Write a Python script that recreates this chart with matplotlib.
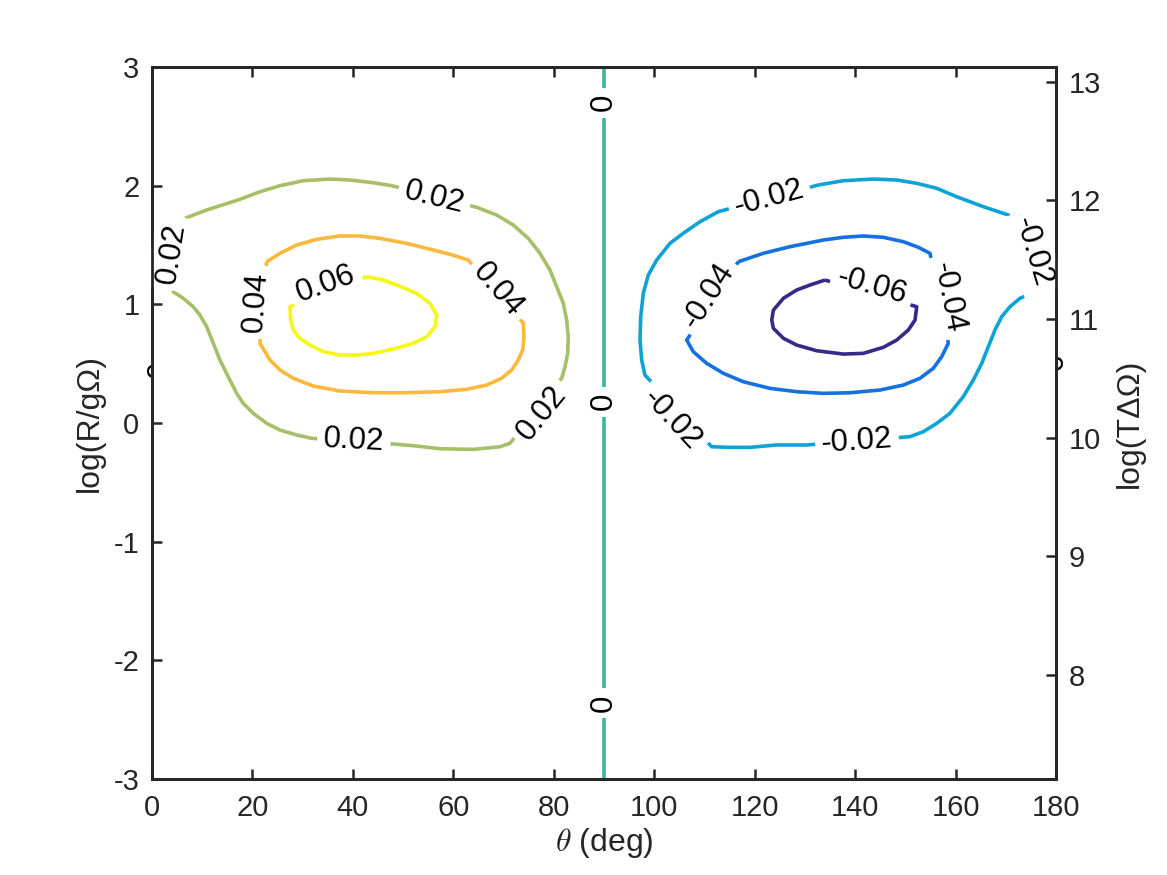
import matplotlib
matplotlib.use("Agg")
import matplotlib.pyplot as plt
import numpy as np
from matplotlib.transforms import Bbox

plt.rcParams['font.family'] = ['Liberation Sans', 'DejaVu Sans']
plt.rcParams['mathtext.fontset'] = 'cm'
plt.rcParams['axes.unicode_minus'] = False

# contour levels and their colours (parula-like)
levels = [-0.06, -0.04, -0.02, 0.0, 0.02, 0.04, 0.06]
level_colors = ['#352a87', '#1570e0', '#0ea3d6', '#36b89d', '#a6bf68', '#fcb83c', '#f6f712']

# contour paths: (theta in deg, log(R/g Omega))
c_p02 = [(6.57, 1.725), (10.89, 1.795), (17.52, 1.885), (21.5, 1.949), (25.49, 2.0),
         (30.13, 2.042), (35.44, 2.056), (39.43, 2.048), (44.06, 2.025), (47.73, 2.0),
         (64.65, 1.818), (68.63, 1.753), (71.94, 1.669), (74.93, 1.556), (77.26, 1.43),
         (79.25, 1.289), (80.58, 1.149), (81.9, 1.009), (82.57, 0.868), (82.89, 0.727),
         (82.77, 0.587), (82.24, 0.474), (81.58, 0.377),
         (71.28, -0.171), (69.29, -0.2), (63.98, -0.222), (57.35, -0.217), (52.71, -0.194),
         (49.04, -0.18),
         (31.8, -0.129), (28.81, -0.101), (25.49, -0.059), (22.84, -0.003), (20.17, 0.082),
         (18.18, 0.166), (16.87, 0.25), (15.19, 0.39), (13.54, 0.531), (12.21, 0.672),
         (10.89, 0.812), (9.56, 0.91), (8.22, 0.98), (6.23, 1.051), (4.24, 1.106)]
c_p04 = [(22.84, 1.359), (25.49, 1.43), (28.81, 1.5), (32.79, 1.548), (37.43, 1.576),
         (41.42, 1.576), (45.4, 1.556), (50.71, 1.514), (54.69, 1.472), (59.34, 1.422),
         (62.98, 1.374),
         (73.94, 0.84), (74.07, 0.727), (73.81, 0.615), (72.94, 0.531), (71.62, 0.447),
         (69.63, 0.377), (66.64, 0.32), (62.66, 0.284), (57.35, 0.264), (50.71, 0.255),
         (44.06, 0.255), (37.43, 0.27), (32.11, 0.312), (28.14, 0.377), (25.49, 0.447),
         (23.5, 0.531), (21.5, 0.672)]
c_p06 = [(42.75, 1.233), (46.06, 1.205), (48.72, 1.163), (52.71, 1.093), (55.35, 1.009),
         (56.7, 0.91), (56.37, 0.812), (54.69, 0.727), (52.04, 0.672), (48.72, 0.63),
         (44.06, 0.587), (40.76, 0.573), (37.43, 0.573), (34.1, 0.601), (31.46, 0.657),
         (29.47, 0.714), (28.13, 0.784), (27.62, 0.868), (27.48, 0.98)]
c_m02 = [(132.68, 2.006), (137.65, 2.042), (143.63, 2.056), (148.28, 2.048), (152.26, 2.02),
         (156.24, 1.978), (160.22, 1.907), (165.53, 1.823), (170.51, 1.753),
         (175.16, 1.093), (172.83, 1.051), (170.84, 0.98), (169.19, 0.896), (167.85, 0.784),
         (166.52, 0.643), (165.21, 0.503), (163.53, 0.362), (161.54, 0.222), (158.89, 0.082),
         (156.24, -0.003), (153.58, -0.073), (150.93, -0.115),
         (130.36, -0.185), (124.39, -0.185), (119.07, -0.205), (115.09, -0.205),
         (111.44, -0.2),
         (98.16, 0.404), (97.51, 0.531), (97.17, 0.699), (97.31, 0.896), (97.83, 1.093),
         (98.83, 1.247), (100.5, 1.374), (103.14, 1.514), (105.79, 1.599), (109.11, 1.696),
         (112.76, 1.781)]
c_m04 = [(116.74, 1.359), (121.72, 1.43), (127.04, 1.486), (133.67, 1.542), (137.65, 1.565),
         (141.63, 1.576), (145.61, 1.565), (149.6, 1.528), (152.58, 1.481), (154.91, 1.43),
         (158.56, 0.672), (157.24, 0.559), (155.57, 0.461), (152.92, 0.377), (149.6, 0.32),
         (144.96, 0.278), (138.98, 0.255), (133.67, 0.25), (128.37, 0.264), (123.05, 0.292),
         (117.74, 0.348), (113.76, 0.419), (110.45, 0.503), (107.78, 0.601), (106.47, 0.699)]
c_m06 = [(134.0, 1.205), (131.02, 1.163), (128.37, 1.121), (125.72, 1.051), (123.73, 0.952),
         (123.4, 0.868), (123.73, 0.798), (125.72, 0.714), (128.37, 0.657), (132.36, 0.609),
         (137.65, 0.581), (141.63, 0.587), (145.61, 0.638), (148.28, 0.699), (150.6, 0.784),
         (151.93, 0.868), (152.26, 0.98)]
c_zero = [(90.0, -3.0), (90.0, 3.0)]

contours = {-0.06: c_m06, -0.04: c_m04, -0.02: c_m02, 0.0: c_zero,
            0.02: c_p02, 0.04: c_p04, 0.06: c_p06}

# inline labels: text, theta, y, rotation
labels = [
    ('0.02', 56.2, 1.90, -14), ('0.02', 77.7, 0.08, 51), ('0.02', 40.2, -0.15, -3),
    ('0.02', 4.0, 1.43, 81), ('0.04', 68.9, 1.12, -49), ('0.04', 20.7, 1.02, 86),
    ('0.06', 34.6, 1.17, 20),
    ('-0.02', 122.9, 1.90, 15), ('-0.02', 175.4, 1.44, -73), ('-0.02', 140.4, -0.16, 4),
    ('-0.02', 103.5, 0.03, -47), ('-0.04', 110.7, 1.07, 57), ('-0.04', 158.5, 1.06, -79),
    ('-0.06', 143.4, 1.15, -16),
    ('0', 90.0, 2.70, 90), ('0', 90.0, 0.18, 90), ('0', 90.0, -2.36, 90),
]

xticks = [0, 20, 40, 60, 80, 100, 120, 140, 160, 180]
yticks = [-3, -2, -1, 0, 1, 2, 3]
y2ticks = [8, 9, 10, 11, 12, 13]
y2_offset = 10.124

dark = '#262626'

fig = plt.figure(figsize=(11.67, 8.75), dpi=100)
ax = fig.add_axes([0.1302, 0.1097, 0.7747, 0.8137])

for lev, col in zip(levels, level_colors):
    pts = np.array(contours[lev])
    if lev != 0.0:
        pts = np.vstack([pts, pts[:1]])
    ax.plot(pts[:, 0], pts[:, 1], color=col, lw=2.6, zorder=2,
            solid_joinstyle='round', solid_capstyle='butt')

for s, xx, yy, rot in labels:
    ax.text(xx, yy, s, rotation=rot, rotation_mode='anchor', ha='center', va='center',
            fontsize=22.5, color='black', zorder=3,
            bbox=dict(fc='white', ec='none', pad=4.5))

ax.set_xlim(0, 180)
ax.set_ylim(-3, 3)
ax.set_xticks(xticks)
ax.set_yticks(yticks)
ax.tick_params(direction='in', length=7.5, width=1.8, labelsize=21, colors=dark,
               top=True, right=False, pad=11)
ax.tick_params(axis='y', pad=9)
ax.set_xlabel(r'$\theta$ (deg)', fontsize=23, color=dark, labelpad=3)
ax.set_ylabel('log(R/gΩ)', fontsize=23, color=dark, labelpad=6)
for sp in ax.spines.values():
    sp.set_linewidth(2.0)
    sp.set_color(dark)

ax2 = ax.twinx()
ax2.set_ylim(-3 + y2_offset, 3 + y2_offset)
ax2.set_yticks(y2ticks)
ax2.tick_params(direction='in', length=7.5, width=1.8, labelsize=21, colors=dark, pad=9)
ax2.set_ylabel('log(TΔΩ)', fontsize=23, color=dark, labelpad=10)
for sp in ax2.spines.values():
    sp.set_linewidth(2.0)
    sp.set_color(dark)

# slivers of the edge labels that stick out of the box
bx = ax.bbox
for xx, yy, rot, side in [(1.8, 0.45, 90, 'left'), (178.2, 0.50, -90, 'right')]:
    t = ax.text(xx, yy, '0', rotation=rot, rotation_mode='anchor', ha='center',
                va='center', fontsize=22.5, color='black', zorder=1)
    if side == 'left':
        box = Bbox.from_extents(bx.x0 - 7, bx.y0, bx.x0, bx.y1)
    else:
        box = Bbox.from_extents(bx.x1, bx.y0, bx.x1 + 7, bx.y1)
    t.set_clip_box(box)
    t.set_clip_on(True)

fig.savefig('out.png', dpi=100)
